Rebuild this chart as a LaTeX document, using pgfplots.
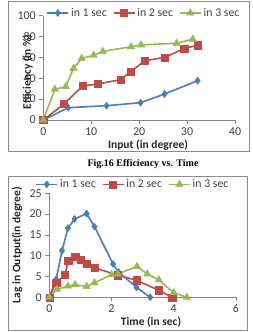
\documentclass[border=0pt]{standalone}
\usepackage{pgfplots}
\pgfplotsset{compat=1.18}
\usepackage{fontspec}
\setmainfont{Carlito}
\newfontfamily\capfont{Liberation Serif}
\definecolor{cblue}{HTML}{4A7EBB}
\definecolor{cred}{HTML}{BE4B48}
\definecolor{cgreen}{HTML}{98B954}
\definecolor{axgray}{HTML}{868686}
\definecolor{txt}{HTML}{404040}
\definecolor{frame}{HTML}{8C8C8C}

\pgfplotsset{
  exstyle/.style={
    scale only axis, clip=false,
    axis lines=left, axis line style={-,axgray,line width=0.6pt},
    tick style={axgray,line width=0.6pt}, tick align=outside, major tick length=4pt,
    ticklabel style={font=\fontsize{12}{14}\selectfont, text=txt},
    /pgf/number format/assume math mode=true,
    legend columns=3,
    legend style={draw=none, fill=none, font=\fontsize{11.8}{14}\selectfont, text=txt,
      inner sep=0pt, /tikz/every even column/.append style={column sep=4pt}},
    legend cell align=left,
    legend image code/.code={\draw[mark repeat=2,mark phase=2,##1] plot coordinates {(0pt,0pt) (10.5pt,0pt) (21pt,0pt)};},
    every axis plot/.append style={line width=1.6pt},
  },
  sblue/.style={color=cblue, mark=diamond*, mark size=3.6pt, mark options={solid, line width=0.4pt}},
  sred/.style={color=cred, mark=square*, mark size=3.6pt, mark options={solid, line width=0.4pt}},
  sgreen/.style={color=cgreen, mark=triangle*, mark size=4.3pt, mark options={solid, line width=0.4pt}},
}

\begin{document}
\begin{tikzpicture}[x=1pt,y=1pt]
\path[use as bounding box] (0,0) rectangle (253,-332);
\draw[frame, line width=0.7pt] (8,-1) rectangle (249,-151);
\draw[frame, line width=0.7pt] (8,-176) rectangle (247,-330);

\begin{axis}[exstyle, at={(43.3pt,-120pt)}, anchor=south west,
  width=191.7pt, height=104.3pt,
  xmin=0, xmax=40, ymin=0, ymax=100,
  xtick={0,10,20,30,40}, ytick={0,20,40,60,80,100},
  legend style={at={(rel axis cs:0.525,1.026)}, anchor=center}]
\addplot[sblue] coordinates {(0,0) (5.2,11.8) (13.2,13.7) (20.3,16.6) (25.3,24.9) (32.2,37.7)};
\addplot[sred] coordinates {(0,0) (4.3,15.3) (8.2,32.6) (11.3,34.5) (16.2,38.7) (18.2,46.3) (21.2,56.9) (25.3,60) (29.4,68.5) (32.2,71.7)};
\addplot[sgreen] coordinates {(0,0) (2.4,29.4) (4.7,32) (6.3,49.5) (8.0,59) (10.5,62) (12.4,65.8) (18.3,70.2) (20.4,72) (27.8,73.6) (31.2,77.5)};
\legend{in 1 sec, in 2 sec, in 3 sec}
\end{axis}

\begin{axis}[exstyle, at={(49.3pt,-297.3pt)}, anchor=south west,
  width=186.7pt, height=104.1pt,
  xmin=0, xmax=6, ymin=0, ymax=25,
  xtick={0,2,4,6}, ytick={0,5,10,15,20,25},
  legend style={at={(rel axis cs:0.448,1.085)}, anchor=center}]
\addplot[sblue] coordinates {(0,0) (0.22,4.3) (0.41,11.2) (0.6,16.6) (0.81,18.8) (1.2,20.1) (1.45,17) (2.05,8) (2.22,6.1) (2.8,2.4) (3.24,0)};
\addplot[sred] coordinates {(0,0) (0.22,3.5) (0.5,5.4) (0.61,8.7) (0.83,9.8) (1.02,9) (1.21,8) (1.45,7.1) (2.2,5.3) (2.8,4.1) (3.52,1.7) (3.95,0)};
\addplot[sgreen] coordinates {(0,0) (0.25,1.9) (0.6,2.7) (0.83,3) (1.2,2.6) (1.45,3.5) (2.0,5.4) (2.2,5.6) (2.82,7.4) (3.15,5.6) (3.52,4.2) (4.0,1.1) (4.42,0)};
\legend{in 1 sec, in 2 sec, in 3 sec}
\end{axis}

\node[font=\bfseries\fontsize{11.5}{13}\selectfont, text=black!85] at (148,-145) {Input (in degree)};
\node[rotate=90, font=\bfseries\fontsize{11.5}{13}\selectfont, text=black!85] at (27.5,-72) {Efficiency (in \%)};
\node[font=\capfont\bfseries\fontsize{10}{12}\selectfont] at (143,-164) {Fig.16 Efficiency vs. Time};
\node[font=\bfseries\fontsize{11.5}{13}\selectfont, text=black!85] at (151,-322) {Time (in sec)};
\node[rotate=90, font=\bfseries\fontsize{11.5}{13}\selectfont, text=black!85] at (17,-245) {Lag in Output(in degree)};
\end{tikzpicture}
\end{document}
